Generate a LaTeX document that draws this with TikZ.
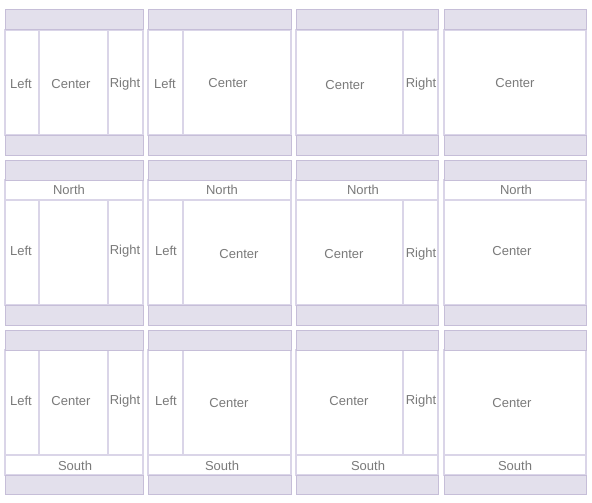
\documentclass[tikz,border=0pt]{standalone}
\usepackage{fontspec}
\setmainfont{Liberation Sans}
\definecolor{hdrfill}{HTML}{E3E0EC}
\definecolor{hdrline}{HTML}{C6BED8}
\definecolor{divline}{HTML}{DAD5E8}
\definecolor{txt}{HTML}{7A7A7A}
\tikzset{
  hdrbox/.style={fill=hdrfill,draw=hdrline,line width=1pt},
  panelbox/.style={fill=white,draw=divline,line width=1.2pt},
  divider/.style={draw=divline,line width=2pt},
  lbl/.style={text=txt,font=\fontsize{13}{15}\selectfont,inner sep=0pt,anchor=center,yshift=-0.7pt}
}
\begin{document}
\begin{tikzpicture}[x=1pt,y=-1pt]
\useasboundingbox[fill=white] (0,0) rectangle (592,503);
% panels: left/right x
\foreach \xl/\xr [count=\i] in {5/143,148/291,296/438,444/586}{
  % row 1
  \draw[panelbox] (\xl,30) rectangle (\xr,135);
  \draw[hdrbox] (\xl,10) rectangle (\xr,30);
  \draw[hdrbox] (\xl,135) rectangle (\xr,155);
  % row 2
  \draw[panelbox] (\xl,180) rectangle (\xr,305);
  \draw[divider] (\xl,200) -- (\xr,200);
  \draw[hdrbox] (\xl,160) rectangle (\xr,180);
  \draw[hdrbox] (\xl,305) rectangle (\xr,325);
  % row 3
  \draw[panelbox] (\xl,350) rectangle (\xr,475);
  \draw[divider] (\xl,455) -- (\xr,455);
  \draw[hdrbox] (\xl,330) rectangle (\xr,350);
  \draw[hdrbox] (\xl,475) rectangle (\xr,494);
}
% vertical dividers
\foreach \ya/\yb in {31/134,201/304,351/454}{
  \draw[divider] (39,\ya) -- (39,\yb);
  \draw[divider] (108,\ya) -- (108,\yb);
  \draw[divider] (183,\ya) -- (183,\yb);
  \draw[divider] (403,\ya) -- (403,\yb);
}
% row 1 labels
\node[lbl] (r1l1) at (21,83) {Left};
\node[lbl] (r1c1) at (71,83) {Center};
\node[lbl] (r1r1) at (125,83) {Right};
\node[lbl] (r1l2) at (165,83) {Left};
\node[lbl] (r1c2) at (228,82) {Center};
\node[lbl] (r1c3) at (345,84) {Center};
\node[lbl] (r1r3) at (421,83) {Right};
\node[lbl] (r1c4) at (515,82) {Center};
% row 2 labels
\node[lbl] (r2n1) at (69,189) {North};
\node[lbl] (r2l1) at (21,250) {Left};
\node[lbl] (r2r1) at (125,250) {Right};
\node[lbl] (r2n2) at (222,189) {North};
\node[lbl] (r2l2) at (166,250) {Left};
\node[lbl] (r2c2) at (239,253) {Center};
\node[lbl] (r2n3) at (363,189) {North};
\node[lbl] (r2c3) at (344,253) {Center};
\node[lbl] (r2r3) at (421,253) {Right};
\node[lbl] (r2n4) at (516,189) {North};
\node[lbl] (r2c4) at (512,250) {Center};
% row 3 labels
\node[lbl] (r3l1) at (21,400) {Left};
\node[lbl] (r3c1) at (71,400) {Center};
\node[lbl] (r3r1) at (125,400) {Right};
\node[lbl] (r3s1) at (75,465) {South};
\node[lbl] (r3l2) at (166,400) {Left};
\node[lbl] (r3c2) at (229,402) {Center};
\node[lbl] (r3s2) at (222,465) {South};
\node[lbl] (r3c3) at (349,400) {Center};
\node[lbl] (r3r3) at (421,400) {Right};
\node[lbl] (r3s3) at (368,465) {South};
\node[lbl] (r3c4) at (512,402) {Center};
\node[lbl] (r3s4) at (515,465) {South};
\end{tikzpicture}
\end{document}
